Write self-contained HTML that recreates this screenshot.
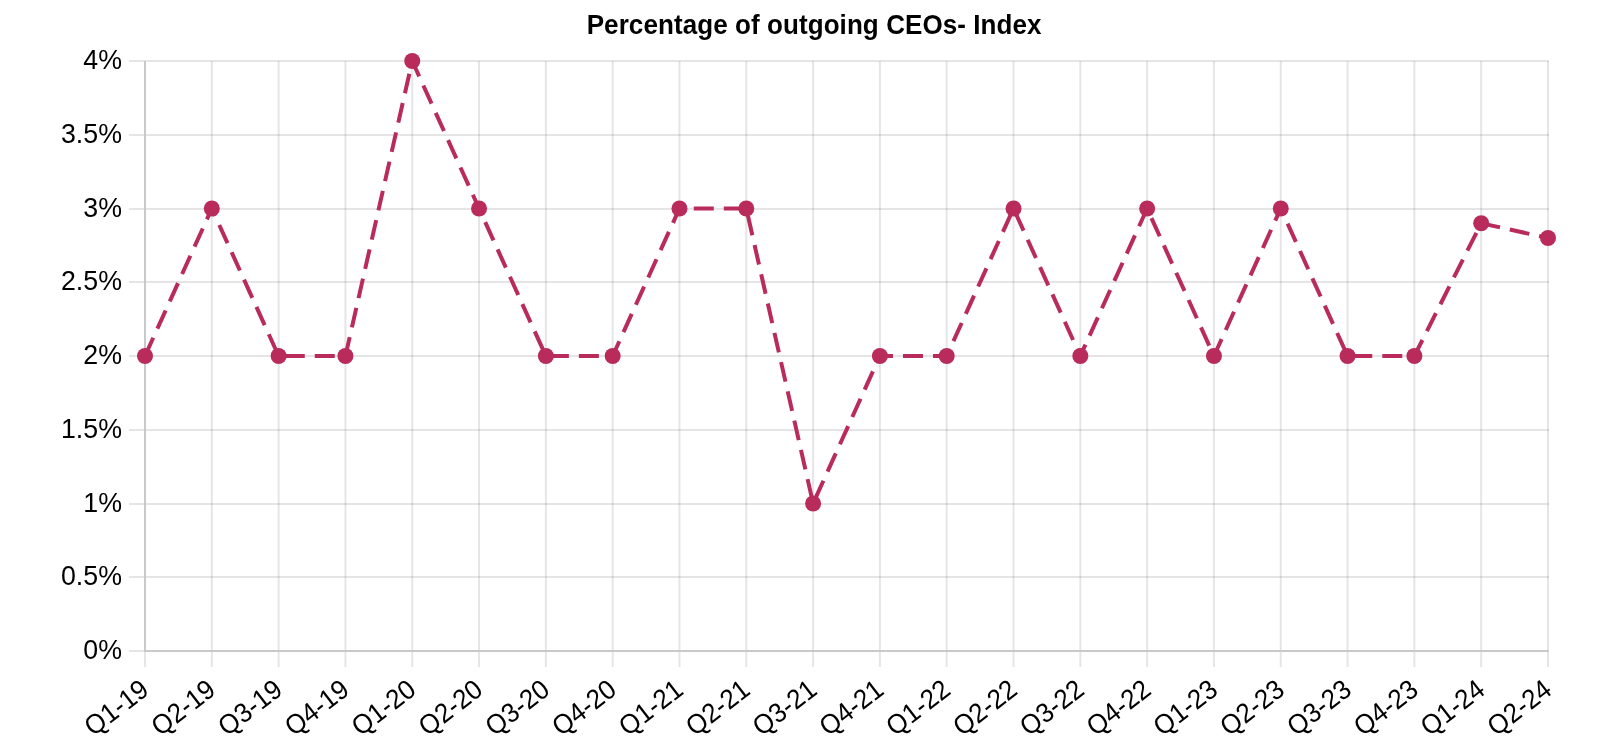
<!DOCTYPE html>
<html><head><meta charset="utf-8"><title>Percentage of outgoing CEOs- Index</title><style>
html,body{margin:0;padding:0;background:#fff;width:1616px;height:750px;overflow:hidden}
svg{display:block;will-change:transform}
.t{font-family:"Liberation Sans",sans-serif;font-size:26px;fill:#000}
.title{font-family:"Liberation Sans",sans-serif;font-size:26px;font-weight:bold;fill:#000;letter-spacing:0.09px}
</style></head><body>
<svg width="1616" height="750" viewBox="0 0 1616 750">
<g class="grid">
<line x1="129" y1="61.00" x2="1549.00" y2="61.00" stroke="rgba(0,0,0,0.1)" stroke-width="2"/>
<line x1="129" y1="135.00" x2="1549.00" y2="135.00" stroke="rgba(0,0,0,0.1)" stroke-width="2"/>
<line x1="129" y1="209.00" x2="1549.00" y2="209.00" stroke="rgba(0,0,0,0.1)" stroke-width="2"/>
<line x1="129" y1="282.00" x2="1549.00" y2="282.00" stroke="rgba(0,0,0,0.1)" stroke-width="2"/>
<line x1="129" y1="356.00" x2="1549.00" y2="356.00" stroke="rgba(0,0,0,0.1)" stroke-width="2"/>
<line x1="129" y1="430.00" x2="1549.00" y2="430.00" stroke="rgba(0,0,0,0.1)" stroke-width="2"/>
<line x1="129" y1="504.00" x2="1549.00" y2="504.00" stroke="rgba(0,0,0,0.1)" stroke-width="2"/>
<line x1="129" y1="577.00" x2="1549.00" y2="577.00" stroke="rgba(0,0,0,0.1)" stroke-width="2"/>
<line x1="129" y1="651.00" x2="1549.00" y2="651.00" stroke="rgba(0,0,0,0.1)" stroke-width="2"/>
<line x1="145.00" y1="61.00" x2="145.00" y2="667" stroke="rgba(0,0,0,0.1)" stroke-width="2"/>
<line x1="211.81" y1="61.00" x2="211.81" y2="667" stroke="rgba(0,0,0,0.1)" stroke-width="2"/>
<line x1="278.62" y1="61.00" x2="278.62" y2="667" stroke="rgba(0,0,0,0.1)" stroke-width="2"/>
<line x1="345.43" y1="61.00" x2="345.43" y2="667" stroke="rgba(0,0,0,0.1)" stroke-width="2"/>
<line x1="412.24" y1="61.00" x2="412.24" y2="667" stroke="rgba(0,0,0,0.1)" stroke-width="2"/>
<line x1="479.05" y1="61.00" x2="479.05" y2="667" stroke="rgba(0,0,0,0.1)" stroke-width="2"/>
<line x1="545.86" y1="61.00" x2="545.86" y2="667" stroke="rgba(0,0,0,0.1)" stroke-width="2"/>
<line x1="612.67" y1="61.00" x2="612.67" y2="667" stroke="rgba(0,0,0,0.1)" stroke-width="2"/>
<line x1="679.48" y1="61.00" x2="679.48" y2="667" stroke="rgba(0,0,0,0.1)" stroke-width="2"/>
<line x1="746.29" y1="61.00" x2="746.29" y2="667" stroke="rgba(0,0,0,0.1)" stroke-width="2"/>
<line x1="813.10" y1="61.00" x2="813.10" y2="667" stroke="rgba(0,0,0,0.1)" stroke-width="2"/>
<line x1="879.90" y1="61.00" x2="879.90" y2="667" stroke="rgba(0,0,0,0.1)" stroke-width="2"/>
<line x1="946.71" y1="61.00" x2="946.71" y2="667" stroke="rgba(0,0,0,0.1)" stroke-width="2"/>
<line x1="1013.52" y1="61.00" x2="1013.52" y2="667" stroke="rgba(0,0,0,0.1)" stroke-width="2"/>
<line x1="1080.33" y1="61.00" x2="1080.33" y2="667" stroke="rgba(0,0,0,0.1)" stroke-width="2"/>
<line x1="1147.14" y1="61.00" x2="1147.14" y2="667" stroke="rgba(0,0,0,0.1)" stroke-width="2"/>
<line x1="1213.95" y1="61.00" x2="1213.95" y2="667" stroke="rgba(0,0,0,0.1)" stroke-width="2"/>
<line x1="1280.76" y1="61.00" x2="1280.76" y2="667" stroke="rgba(0,0,0,0.1)" stroke-width="2"/>
<line x1="1347.57" y1="61.00" x2="1347.57" y2="667" stroke="rgba(0,0,0,0.1)" stroke-width="2"/>
<line x1="1414.38" y1="61.00" x2="1414.38" y2="667" stroke="rgba(0,0,0,0.1)" stroke-width="2"/>
<line x1="1481.19" y1="61.00" x2="1481.19" y2="667" stroke="rgba(0,0,0,0.1)" stroke-width="2"/>
<line x1="1548.00" y1="61.00" x2="1548.00" y2="667" stroke="rgba(0,0,0,0.1)" stroke-width="2"/>
<line x1="145.0" y1="61.0" x2="145.0" y2="652.0" stroke="#c9c9c9" stroke-width="2"/>
<line x1="144.0" y1="651.0" x2="1549.0" y2="651.0" stroke="#c9c9c9" stroke-width="2"/>
</g>
<g class="t">
<text transform="translate(122.00,659.10) scale(1.03,1.05)" text-anchor="end">0%</text>
<text transform="translate(122.00,585.35) scale(1.03,1.05)" text-anchor="end">0.5%</text>
<text transform="translate(122.00,511.60) scale(1.03,1.05)" text-anchor="end">1%</text>
<text transform="translate(122.00,437.85) scale(1.03,1.05)" text-anchor="end">1.5%</text>
<text transform="translate(122.00,364.10) scale(1.03,1.05)" text-anchor="end">2%</text>
<text transform="translate(122.00,290.35) scale(1.03,1.05)" text-anchor="end">2.5%</text>
<text transform="translate(122.00,216.60) scale(1.03,1.05)" text-anchor="end">3%</text>
<text transform="translate(122.00,142.85) scale(1.03,1.05)" text-anchor="end">3.5%</text>
<text transform="translate(122.00,69.10) scale(1.03,1.05)" text-anchor="end">4%</text>
<text transform="translate(150.50,692.80) rotate(-37.7) scale(1.0,1.05)" text-anchor="end">Q1-19</text>
<text transform="translate(217.31,692.80) rotate(-37.7) scale(1.0,1.05)" text-anchor="end">Q2-19</text>
<text transform="translate(284.12,692.80) rotate(-37.7) scale(1.0,1.05)" text-anchor="end">Q3-19</text>
<text transform="translate(350.93,692.80) rotate(-37.7) scale(1.0,1.05)" text-anchor="end">Q4-19</text>
<text transform="translate(417.74,692.80) rotate(-37.7) scale(1.0,1.05)" text-anchor="end">Q1-20</text>
<text transform="translate(484.55,692.80) rotate(-37.7) scale(1.0,1.05)" text-anchor="end">Q2-20</text>
<text transform="translate(551.36,692.80) rotate(-37.7) scale(1.0,1.05)" text-anchor="end">Q3-20</text>
<text transform="translate(618.17,692.80) rotate(-37.7) scale(1.0,1.05)" text-anchor="end">Q4-20</text>
<text transform="translate(684.98,692.80) rotate(-37.7) scale(1.0,1.05)" text-anchor="end">Q1-21</text>
<text transform="translate(751.79,692.80) rotate(-37.7) scale(1.0,1.05)" text-anchor="end">Q2-21</text>
<text transform="translate(818.60,692.80) rotate(-37.7) scale(1.0,1.05)" text-anchor="end">Q3-21</text>
<text transform="translate(885.40,692.80) rotate(-37.7) scale(1.0,1.05)" text-anchor="end">Q4-21</text>
<text transform="translate(952.21,692.80) rotate(-37.7) scale(1.0,1.05)" text-anchor="end">Q1-22</text>
<text transform="translate(1019.02,692.80) rotate(-37.7) scale(1.0,1.05)" text-anchor="end">Q2-22</text>
<text transform="translate(1085.83,692.80) rotate(-37.7) scale(1.0,1.05)" text-anchor="end">Q3-22</text>
<text transform="translate(1152.64,692.80) rotate(-37.7) scale(1.0,1.05)" text-anchor="end">Q4-22</text>
<text transform="translate(1219.45,692.80) rotate(-37.7) scale(1.0,1.05)" text-anchor="end">Q1-23</text>
<text transform="translate(1286.26,692.80) rotate(-37.7) scale(1.0,1.05)" text-anchor="end">Q2-23</text>
<text transform="translate(1353.07,692.80) rotate(-37.7) scale(1.0,1.05)" text-anchor="end">Q3-23</text>
<text transform="translate(1419.88,692.80) rotate(-37.7) scale(1.0,1.05)" text-anchor="end">Q4-23</text>
<text transform="translate(1486.69,692.80) rotate(-37.7) scale(1.0,1.05)" text-anchor="end">Q1-24</text>
<text transform="translate(1553.50,692.80) rotate(-37.7) scale(1.0,1.05)" text-anchor="end">Q2-24</text>
</g>
<polyline points="145.00,356.00 211.81,208.50 278.62,356.00 345.43,356.00 412.24,61.00 479.05,208.50 545.86,356.00 612.67,356.00 679.48,208.50 746.29,208.50 813.10,503.50 879.90,356.00 946.71,356.00 1013.52,208.50 1080.33,356.00 1147.14,208.50 1213.95,356.00 1280.76,208.50 1347.57,356.00 1414.38,356.00 1481.19,223.25 1548.00,238.00" fill="none" stroke="#b82b5b" stroke-width="4" stroke-dasharray="20 10" stroke-linejoin="miter"/>
<g fill="#b82b5b">
<circle cx="145.00" cy="356.00" r="8.0"/>
<circle cx="211.81" cy="208.50" r="8.0"/>
<circle cx="278.62" cy="356.00" r="8.0"/>
<circle cx="345.43" cy="356.00" r="8.0"/>
<circle cx="412.24" cy="61.00" r="8.0"/>
<circle cx="479.05" cy="208.50" r="8.0"/>
<circle cx="545.86" cy="356.00" r="8.0"/>
<circle cx="612.67" cy="356.00" r="8.0"/>
<circle cx="679.48" cy="208.50" r="8.0"/>
<circle cx="746.29" cy="208.50" r="8.0"/>
<circle cx="813.10" cy="503.50" r="8.0"/>
<circle cx="879.90" cy="356.00" r="8.0"/>
<circle cx="946.71" cy="356.00" r="8.0"/>
<circle cx="1013.52" cy="208.50" r="8.0"/>
<circle cx="1080.33" cy="356.00" r="8.0"/>
<circle cx="1147.14" cy="208.50" r="8.0"/>
<circle cx="1213.95" cy="356.00" r="8.0"/>
<circle cx="1280.76" cy="208.50" r="8.0"/>
<circle cx="1347.57" cy="356.00" r="8.0"/>
<circle cx="1414.38" cy="356.00" r="8.0"/>
<circle cx="1481.19" cy="223.25" r="8.0"/>
<circle cx="1548.00" cy="238.00" r="8.0"/>
</g>
<text class="title" transform="translate(586.7,34.0) scale(1.0,1.05)">Percentage of outgoing CEOs- Index</text>
</svg>
</body></html>
